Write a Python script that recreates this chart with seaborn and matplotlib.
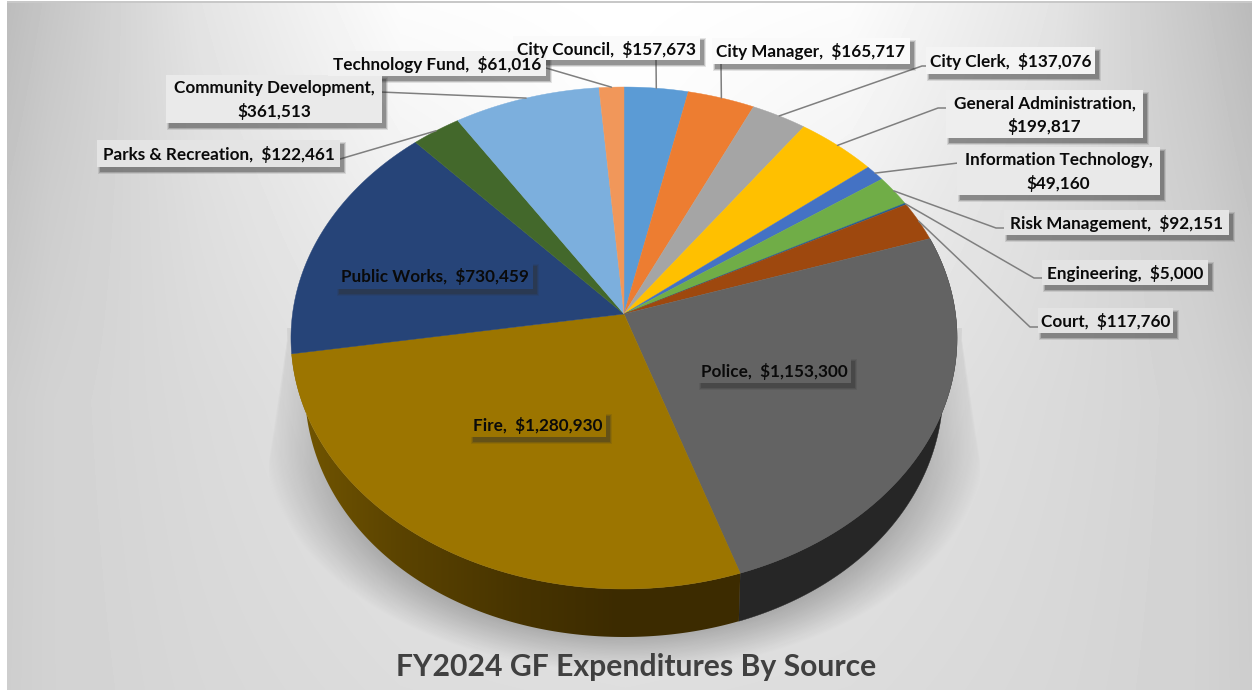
import numpy as np
import matplotlib
matplotlib.use("Agg")
import matplotlib.pyplot as plt
import seaborn as sns
from matplotlib.patches import Polygon, Rectangle

# chart data, clockwise from 12 o'clock
departments = ["City Council", "City Manager", "City Clerk", "General Administration",
               "Information Technology", "Risk Management", "Engineering", "Court",
               "Police", "Fire", "Public Works", "Parks & Recreation",
               "Community Development", "Technology Fund"]
amounts = [157673, 165717, 137076, 199817, 49160, 92151, 5000, 117760,
           1153300, 1280930, 730459, 122461, 361513, 61016]
slice_colors = ["#5b9bd5", "#ed7d31", "#a5a5a5", "#ffc000", "#4472c4", "#70ad47", "#255e91",
                "#9e480e", "#636363", "#9c7500", "#264478", "#43682b", "#7cafdd", "#f1975a"]
# label text is split on two lines for some of them
two_line = ["Community Development", "General Administration", "Information Technology"]
title = "FY2024 GF Expenditures By Source"

# label boxes in pixels: left, top, right, bottom, box colour
boxes = {
    "Technology Fund": (328, 51, 546, 76, "#f1f1f1"),
    "City Council": (513, 36, 700, 60, "#fafafa"),
    "City Manager": (712, 38, 910, 64, "#fafafa"),
    "City Clerk": (926, 47, 1095, 74, "#f4f4f4"),
    "General Administration": (946, 90, 1143, 138, "#eeeeee"),
    "Information Technology": (957, 147, 1160, 195, "#e9e9e9"),
    "Risk Management": (1004, 210, 1229, 235, "#e4e4e4"),
    "Engineering": (1042, 260, 1208, 285, "#e3e3e3"),
    "Court": (1038, 308, 1173, 333, "#e3e3e3"),
    "Community Development": (166, 75, 382, 123, "#eaeaea"),
    "Parks & Recreation": (97, 140, 340, 167, "#e4e4e4"),
    "Public Works": (336, 262, 533, 289, "#264478"),
    "Police": (698, 357, 851, 383, "#636363"),
    "Fire": (470, 412, 606, 437, "#9c7500"),
}
# where the leader line leaves the box (with the elbow if it has one)
leaders = {
    "Technology Fund": [(546, 68)],
    "City Council": [(656, 60)],
    "City Manager": [(721, 64)],
    "City Clerk": [(926, 66), (922, 66)],
    "General Administration": [(946, 108), (938, 108)],
    "Information Technology": [(958, 163)],
    "Risk Management": [(1004, 228), (996, 228)],
    "Engineering": [(1042, 278), (1034, 278)],
    "Court": [(1038, 327), (1030, 327)],
    "Community Development": [(380, 92)],
    "Parks & Recreation": [(340, 159)],
}

# the tilted pie in pixels
CX, CY = 624, 314
K = 0.0956
A = 248.7
B = 331.5
DEPTH = 48


def project(theta):
    u = np.cos(np.radians(theta))
    v = np.sin(np.radians(theta))
    w = 1 + K * v
    return CX + B * u / w, CY - A * v / w


def rim(theta1, theta2):
    th = np.linspace(theta1, theta2, max(int(abs(theta2 - theta1) * 2), 3))
    return th, *project(th)


sns.set_theme(style="white")
plt.rcParams["font.family"] = ["Lato", "DejaVu Sans"]

fig = plt.figure(figsize=(12.52, 6.9), dpi=100)
ax = fig.add_axes([0, 0, 1, 1])

wedges, _ = ax.pie(amounts, colors=sns.color_palette(slice_colors), startangle=90,
                   counterclock=False, radius=1)
ax.set_aspect("auto")

# background gradient, grey levels read at a few distances from the middle
yy, xx = np.mgrid[2:690, 7:1252]
grad_dx = [0, 225, 425, 575, 627]
grad_y = [0, 200, 400, 690]
grad_rows = np.array([[255, 252, 228, 198, 186],
                      [252, 240, 222, 205, 195],
                      [235, 228, 218, 210, 204],
                      [222, 220, 215, 210, 205]], dtype=float)
dx = np.abs(xx[0] - 625)
per_row = np.array([np.interp(dx, grad_dx, row) for row in grad_rows])
bg = np.array([np.interp(yy[:, 0], grad_y, per_row[:, i]) for i in range(len(dx))]).T
ax.imshow(bg, cmap="gray", vmin=0, vmax=255, extent=(7, 1252, 690, 2), aspect="auto", zorder=0)

# shadow under the pie: straight sharp sides near the top, blurred further down
off_x = np.abs(xx - 624)
half = np.interp(yy, [340, 460], [338, 356])
sides = np.clip((half - off_x) / np.interp(yy, [330, 470], [3, 20]), 0, 1)
f = np.sqrt((off_x / 362.0) ** 2 + (np.clip(yy - 440, 0, None) / 232.0) ** 2)
lower = np.clip((1.0 - f) / 0.2, 0, 1)
shade = np.minimum(sides, lower) * np.interp(yy, [330, 470, 620], [0.17, 0.24, 0.3])
shade[yy < 328] = 0
rgba = np.zeros(shade.shape + (4,))
rgba[..., 3] = shade
ax.imshow(rgba, extent=(7, 1252, 690, 2), aspect="auto", zorder=1)

# side wall and top of every slice
for wedge, dept, colour in zip(wedges, departments, slice_colors):
    t1, t2 = wedge.theta1, wedge.theta2
    wedge.set_visible(False)
    th, x, y = rim(t1, t2)
    if dept in ("Police", "Fire"):
        # the lower rim is a bit narrower than the top one
        u = np.cos(np.radians(th))
        xlow = x - 14 * u * np.abs(u)
        wall = np.r_[np.c_[x, y], np.c_[xlow, y + DEPTH][::-1]]
        if dept == "Police":
            ax.add_patch(Polygon(wall, fc="#262626", ec="#262626", lw=0.3, zorder=2))
        else:
            patch = Polygon(wall, fc="none", ec="none", zorder=2)
            ax.add_patch(patch)
            grad = np.interp(np.arange(290, 745), [290, 400, 520, 620, 745],
                             [0, 0.45, 0.8, 1, 1])
            top = np.array([0x74, 0x57, 0x00]) / 255
            low = np.array([0x3c, 0x2b, 0x00]) / 255
            img = top + grad[None, :, None] * (low - top)
            im = ax.imshow(img, extent=(290, 745, 640, 340), aspect="auto", zorder=2)
            im.set_clip_path(patch)
    pts = np.r_[[[CX, CY]], np.c_[x, y]]
    ax.add_patch(Polygon(pts, fc=colour, ec=colour, lw=0.3, zorder=3))

# leader lines run from the box to the middle of the slice edge
for wedge, dept in zip(wedges, departments):
    if dept not in leaders:
        continue
    ex, ey = project((wedge.theta1 + wedge.theta2) / 2)
    path = leaders[dept] + [(ex, ey)]
    ax.plot([p[0] for p in path], [p[1] for p in path], color="#7f7f7f", lw=1.1, zorder=4)

# labels with their drop shadow
for dept, amount in zip(departments, amounts):
    left, top, right, bottom, fill = boxes[dept]
    for grow, alpha in [(2.5, 0.12), (1.5, 0.2), (0.5, 0.3)]:
        ax.add_patch(Rectangle((left + 3 - grow, top + 4 - grow), right - left + 2 * grow,
                               bottom - top + 2 * grow, fc="#303030", ec="none", alpha=alpha,
                               zorder=5))
    ax.add_patch(Rectangle((left, top), right - left, bottom - top, fc=fill, ec="none", zorder=6))
    sep = ",\n" if dept in two_line else ",  "
    ax.text((left + right) / 2, (top + bottom) / 2 + 1, f"{dept}{sep}${amount:,}", ha="center",
            va="center", fontsize=12.3, fontweight="bold", color="#0a0a0a", linespacing=1.45,
            zorder=7)

ax.text(636, 667, title, ha="center", va="center", fontsize=21.7, fontweight="bold",
        color="#404040", zorder=7)

ax.add_patch(Rectangle((7, 1), 1245, 2, fc="#c8c8c8", ec="none", zorder=1))
ax.set_xlim(0, 1252)
ax.set_ylim(690, 0)
ax.axis("off")
fig.savefig("out.png", dpi=100, facecolor="white")
